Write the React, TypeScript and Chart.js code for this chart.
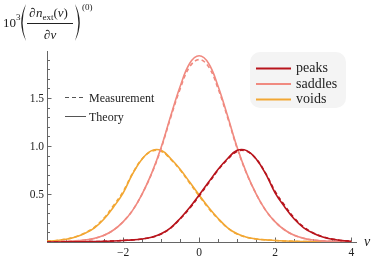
import React, { useEffect, useRef } from "react";
import { Chart, registerables } from "chart.js";
Chart.register(...registerables);

const NU = [-4, -3.75, -3.5, -3.25, -3, -2.75, -2.5, -2.25, -2, -1.75, -1.5, -1.25, -1, -0.75, -0.5, -0.25, 0, 0.25, 0.5, 0.75, 1, 1.25, 1.5, 1.75, 2, 2.25, 2.5, 2.75, 3, 3.25, 3.5, 3.75, 4];

const PEAKS_THEORY = [0.0, 0.0, 0.001, 0.002, 0.003, 0.005, 0.007, 0.011, 0.016, 0.022, 0.032, 0.05, 0.085, 0.148, 0.245, 0.36, 0.49, 0.625, 0.758, 0.87, 0.955, 0.952, 0.865, 0.71, 0.51, 0.365, 0.24, 0.148, 0.092, 0.052, 0.028, 0.015, 0.008];
const PEAKS_MEAS = [0.0, 0.0, 0.001, 0.002, 0.003, 0.005, 0.007, 0.011, 0.016, 0.022, 0.032, 0.049, 0.083, 0.145, 0.24, 0.35, 0.48, 0.615, 0.75, 0.862, 0.945, 0.945, 0.865, 0.715, 0.525, 0.38, 0.25, 0.155, 0.095, 0.055, 0.03, 0.016, 0.009];

const SADDLES_THEORY = [0.001, 0.003, 0.007, 0.012, 0.02, 0.038, 0.07, 0.125, 0.21, 0.33, 0.5, 0.715, 0.985, 1.31, 1.62, 1.86, 1.94, 1.86, 1.62, 1.31, 0.985, 0.715, 0.5, 0.33, 0.21, 0.125, 0.07, 0.038, 0.02, 0.012, 0.007, 0.003, 0.001];
const SADDLES_MEAS = [0.001, 0.003, 0.007, 0.012, 0.02, 0.038, 0.07, 0.125, 0.21, 0.33, 0.5, 0.71, 0.975, 1.295, 1.595, 1.825, 1.9, 1.825, 1.595, 1.295, 0.975, 0.71, 0.5, 0.33, 0.21, 0.125, 0.07, 0.038, 0.02, 0.012, 0.007, 0.003, 0.001];

const VOIDS_THEORY = [0.008, 0.015, 0.028, 0.052, 0.092, 0.148, 0.24, 0.365, 0.51, 0.71, 0.865, 0.952, 0.955, 0.87, 0.758, 0.625, 0.49, 0.36, 0.245, 0.148, 0.085, 0.05, 0.032, 0.022, 0.016, 0.011, 0.007, 0.005, 0.003, 0.002, 0.001, 0.0, 0.0];
const VOIDS_MEAS = [0.009, 0.016, 0.03, 0.055, 0.095, 0.155, 0.25, 0.38, 0.525, 0.715, 0.865, 0.945, 0.945, 0.862, 0.75, 0.615, 0.48, 0.35, 0.24, 0.145, 0.083, 0.049, 0.032, 0.022, 0.016, 0.011, 0.007, 0.005, 0.003, 0.002, 0.001, 0.0, 0.0];

const SERIES_NAMES = ["peaks", "saddles", "voids"];
const SERIES_COLORS = ["#b8141c", "#f08a80", "#f2a734"];
const STYLE_NAMES = ["Measurement", "Theory"];

const X_MAJOR = [-2, 0, 2, 4];
const X_TICK_LABELS = ["\u22122", "0", "2", "4"];
const X_MINOR = [-3.5, -3, -2.5, -1.5, -1, -0.5, 0.5, 1, 1.5, 2.5, 3, 3.5];
const Y_MAJOR = [0.5, 1.0, 1.5];
const Y_TICK_LABELS = ["0.5", "1.0", "1.5"];
const Y_MINOR = [0.1, 0.2, 0.3, 0.4, 0.6, 0.7, 0.8, 0.9, 1.1, 1.2, 1.3, 1.4, 1.6, 1.7, 1.8, 1.9];

const SERIF = "'Liberation Serif', 'DejaVu Serif', serif";

function pts(vals: number[]) {
  return NU.map((x, i) => ({ x, y: vals[i] }));
}

const decor = {
  id: "decor",
  beforeDatasetsDraw(chart: any) {
    const ctx = chart.ctx as CanvasRenderingContext2D;
    const xs = chart.scales.x;
    const ys = chart.scales.y;
    const area = chart.chartArea;
    const x0 = xs.getPixelForValue(-4);
    const y0 = ys.getPixelForValue(0);
    ctx.save();
    ctx.strokeStyle = "#666";
    ctx.lineWidth = 1;
    ctx.beginPath();
    ctx.moveTo(x0 + 0.5, area.top);
    ctx.lineTo(x0 + 0.5, y0);
    ctx.moveTo(x0, y0 + 0.5);
    ctx.lineTo(area.right, y0 + 0.5);
    Y_MAJOR.forEach((v) => {
      const y = Math.round(ys.getPixelForValue(v)) + 0.5;
      ctx.moveTo(x0, y);
      ctx.lineTo(x0 + 4.5, y);
    });
    Y_MINOR.forEach((v) => {
      const y = Math.round(ys.getPixelForValue(v)) + 0.5;
      ctx.moveTo(x0, y);
      ctx.lineTo(x0 + 3, y);
    });
    X_MAJOR.forEach((v) => {
      const x = Math.round(xs.getPixelForValue(v)) + 0.5;
      ctx.moveTo(x, y0);
      ctx.lineTo(x, y0 - 4.5);
    });
    X_MINOR.forEach((v) => {
      const x = Math.round(xs.getPixelForValue(v)) + 0.5;
      ctx.moveTo(x, y0);
      ctx.lineTo(x, y0 - 3);
    });
    ctx.stroke();

    ctx.fillStyle = "#222";
    ctx.font = `11.5px ${SERIF}`;
    ctx.textAlign = "right";
    ctx.textBaseline = "middle";
    Y_MAJOR.forEach((v, i) => {
      ctx.fillText(Y_TICK_LABELS[i], x0 - 3, ys.getPixelForValue(v) + 0.5);
    });
    ctx.textAlign = "center";
    ctx.textBaseline = "alphabetic";
    X_MAJOR.forEach((v, i) => {
      ctx.fillText(X_TICK_LABELS[i], xs.getPixelForValue(v), y0 + 13.5);
    });
    ctx.restore();
  },
  afterDraw(chart: any) {
    const ctx = chart.ctx as CanvasRenderingContext2D;
    const area = chart.chartArea;
    const y0 = chart.scales.y.getPixelForValue(0);
    ctx.save();
    ctx.fillStyle = "#222";
    ctx.textAlign = "left";
    ctx.textBaseline = "alphabetic";

    ctx.font = `italic 14px ${SERIF}`;
    ctx.fillText("\u03bd", area.right + 7, y0 + 4);

    ctx.font = `13px ${SERIF}`;
    ctx.fillText("10", 3, 27);
    ctx.font = `9px ${SERIF}`;
    ctx.fillText("3", 16, 20);
    ctx.beginPath();
    ctx.moveTo(26, 4);
    ctx.quadraticCurveTo(16.5, 22.5, 26, 41);
    ctx.quadraticCurveTo(19.2, 22.5, 26, 4);
    ctx.fill();
    ctx.beginPath();
    ctx.moveTo(75, 4);
    ctx.quadraticCurveTo(84.5, 22.5, 75, 41);
    ctx.quadraticCurveTo(81.8, 22.5, 75, 4);
    ctx.fill();
    let x = 29;
    const nb = 17;
    ctx.font = `13px ${SERIF}`;
    ctx.fillText("\u2202", x, nb);
    x += ctx.measureText("\u2202").width + 0.5;
    ctx.font = `italic 13px ${SERIF}`;
    ctx.fillText("n", x, nb);
    x += ctx.measureText("n").width;
    ctx.font = `9px ${SERIF}`;
    ctx.fillText("ext", x, nb + 3);
    x += ctx.measureText("ext").width;
    ctx.font = `13px ${SERIF}`;
    ctx.fillText("(", x, nb);
    x += ctx.measureText("(").width;
    ctx.font = `italic 13px ${SERIF}`;
    ctx.fillText("\u03bd", x, nb);
    x += ctx.measureText("\u03bd").width;
    ctx.font = `13px ${SERIF}`;
    ctx.fillText(")", x, nb);
    ctx.fillRect(27, 23, 46, 1);
    ctx.font = `13px ${SERIF}`;
    const dw1 = ctx.measureText("\u2202").width;
    ctx.font = `italic 13px ${SERIF}`;
    const dw2 = ctx.measureText("\u03bd").width;
    let dx = 50 - (dw1 + dw2 + 0.5) / 2;
    ctx.font = `13px ${SERIF}`;
    ctx.fillText("\u2202", dx, 39);
    dx += dw1 + 0.5;
    ctx.font = `italic 13px ${SERIF}`;
    ctx.fillText("\u03bd", dx, 39);
    ctx.font = `9px ${SERIF}`;
    ctx.fillText("(0)", 82, 10);

    ctx.strokeStyle = "#555";
    ctx.lineWidth = 1;
    ctx.setLineDash([4, 3]);
    ctx.beginPath();
    ctx.moveTo(65, 97.5);
    ctx.lineTo(86, 97.5);
    ctx.stroke();
    ctx.setLineDash([]);
    ctx.beginPath();
    ctx.moveTo(65, 116.5);
    ctx.lineTo(86, 116.5);
    ctx.stroke();
    ctx.font = `12px ${SERIF}`;
    ctx.fillText(STYLE_NAMES[0], 89, 101.5);
    ctx.fillText(STYLE_NAMES[1], 89, 120.5);

    ctx.fillStyle = "#f4f4f4";
    ctx.beginPath();
    (ctx as any).roundRect(250, 52, 96, 56, 10);
    ctx.fill();
    const ly = [68.5, 84, 99.5];
    ctx.font = `14px ${SERIF}`;
    SERIES_NAMES.forEach((name, i) => {
      ctx.strokeStyle = SERIES_COLORS[i];
      ctx.lineWidth = 2;
      ctx.beginPath();
      ctx.moveTo(256, ly[i]);
      ctx.lineTo(291, ly[i]);
      ctx.stroke();
      ctx.fillStyle = "#222";
      ctx.fillText(name, 296, ly[i] + 3.5);
    });
    ctx.restore();
  },
};

export default function App() {
  const ref = useRef<HTMLCanvasElement | null>(null);
  useEffect(() => {
    document.body.style.margin = "0";
    const canvas = ref.current;
    if (!canvas) return;
    const theory = [PEAKS_THEORY, SADDLES_THEORY, VOIDS_THEORY];
    const meas = [PEAKS_MEAS, SADDLES_MEAS, VOIDS_MEAS];
    const datasets: any[] = [];
    SERIES_NAMES.forEach((name, i) => {
      datasets.push({
        label: name + " " + STYLE_NAMES[0],
        data: pts(meas[i]),
        borderColor: SERIES_COLORS[i],
        borderWidth: 1.6,
        borderDash: [4, 3],
        pointRadius: 0,
        tension: 0.4,
        fill: false,
      });
      datasets.push({
        label: name + " " + STYLE_NAMES[1],
        data: pts(theory[i]),
        borderColor: SERIES_COLORS[i],
        borderWidth: 1.6,
        pointRadius: 0,
        tension: 0.4,
        fill: false,
      });
    });
    const chart = new Chart(canvas, {
      type: "line",
      data: { datasets },
      options: {
        animation: false,
        responsive: false,
        devicePixelRatio: 1,
        layout: { padding: { left: 47, right: 17, top: 51, bottom: 14 } },
        scales: {
          x: { type: "linear", min: -4, max: 4.15, display: false },
          y: { type: "linear", min: 0, max: 1.99, display: false },
        },
        plugins: { legend: { display: false }, tooltip: { enabled: false } },
      },
      plugins: [decor],
    } as any);
    return () => chart.destroy();
  }, []);
  return <canvas ref={ref} width={374} height={256} style={{ display: "block", width: 374, height: 256 }} />;
}
